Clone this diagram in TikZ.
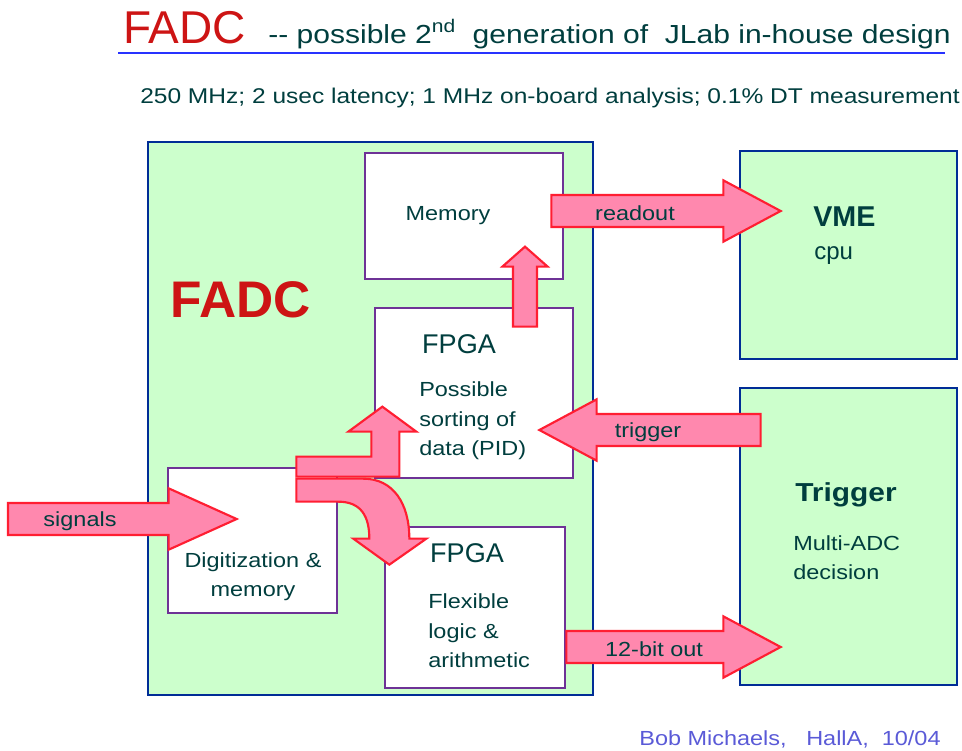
\documentclass[tikz,border=0pt]{standalone}
\usepackage{fontspec}
\setmainfont{Liberation Sans}
\newfontfamily\wide{Liberation Sans}[FakeStretch=1.15]
\usetikzlibrary{calc}
\definecolor{boardgreen}{RGB}{204,255,204}
\definecolor{boardblue}{RGB}{0,45,150}
\definecolor{chippurple}{RGB}{110,50,150}
\definecolor{arrowpink}{RGB}{255,136,174}
\definecolor{arrowred}{RGB}{255,30,50}
\definecolor{fadcred}{RGB}{205,20,20}
\definecolor{textteal}{RGB}{0,62,62}
\definecolor{ruleblue}{RGB}{40,50,255}
\definecolor{signblue}{RGB}{90,90,215}
\begin{document}
\begin{tikzpicture}[x=0.75pt, y=-0.75pt, line join=miter,
  board/.style={draw=boardblue, fill=boardgreen, line width=2pt},
  chip/.style={draw=chippurple, fill=white, line width=2pt},
  boxsize/.style 2 args={minimum width=#1*0.75pt, minimum height=#2*0.75pt, inner sep=0pt},
  pinkarrow/.style={fill=arrowpink, draw=arrowred, line width=1.6pt},
  fatarrow/.style n args={3}{pinkarrow, to path={
    ($(\tikztotarget)!#3!(\tikztostart)$) coordinate (hb)
    ($(\tikztostart)!#1!90:(\tikztotarget)$) -- ($(hb)!#1!90:(\tikztotarget)$)
    -- ($(hb)!#2!90:(\tikztotarget)$) -- (\tikztotarget)
    -- ($(hb)!#2!-90:(\tikztotarget)$) -- ($(hb)!#1!-90:(\tikztotarget)$)
    -- ($(\tikztostart)!#1!-90:(\tikztotarget)$) -- cycle}},
  fat/.style={fatarrow={12pt}{23pt}{43pt}},
  smalltext/.style={font=\wide\fontsize{15.3}{22}\selectfont},
  chiptext/.style={font=\fontsize{20.3}{24}\selectfont}]
\useasboundingbox (0,0) rectangle (962,750);
\node [board, boxsize={445}{553}] (fadc) at (370.5,418.5) {};
\node [chip, boxsize={198}{126}] (mem) at (464,216) {};
\node [chip, boxsize={198}{170}] (sort) at (474,393) {};
\node [chip, boxsize={169}{145}] (dig) at (252.5,540.5) {};
\node [chip, boxsize={180}{161}] (logic) at (475,607.5) {};
\node [board, boxsize={217}{208}] (vme) at (848.5,255) {};
\node [board, boxsize={217}{297}] (trig) at (848.5,536.5) {};
\coordinate (sigin) at (8,519);
\path [fatarrow={12pt}{23pt}{51pt}] (sigin) to ($(dig.west)+(70,-21.5)$);
\path [fat] ($(mem.east)+(-13,-5)$) to ($(mem.east -| vme.west)+(42,-5)$);
\path [fat] ($(trig.west)+(22,-106.5)$) to ($(trig.west -| sort.east)+(-35,-106.5)$);
\path [fat] ($(logic.east)+(0,39.5)$) to ($(logic.east -| trig.west)+(42,39.5)$);
\path [fatarrow={9pt}{17pt}{15pt}] ($(sort.north)+(51,20)$) to ($(sort.north)+(51,-60)$);
\begin{scope}[shift={(dig.north east)}]
\path [pinkarrow] (-42,-10) -- (33,-10) -- (33,-35) -- (10,-35) -- (44,-60) -- (78,-35) -- (61,-35) -- (61,10) -- (-42,10) -- cycle;
\path [pinkarrow] (-42,12) -- (25,12) .. controls (55,12) and (71,37) .. (71,72) -- (88,72) -- (51,98) -- (15,72) -- (31,72) .. controls (31,50) and (23,35) .. (0,35) -- (-42,35) -- cycle;
\end{scope}
\draw [ruleblue, line width=2.2pt] (118,53) -- (945,53);
\begin{scope}[every node/.style={inner sep=0pt, text=textteal}]
\node [font=\fontsize{34.5}{40}\selectfont, text=fadcred, anchor=base west] (title) at (123,43) {FADC};
\node [font=\wide\fontsize{19.6}{24}\selectfont, anchor=base west] (subject) at (268,43) {-{}- possible 2\textsuperscript{nd}\ \ generation of\ \ JLab in-house design};
\node [font=\wide\fontsize{16}{20}\selectfont, anchor=base west] (specs) at (140,103) {250 MHz; 2 usec latency; 1 MHz on-board analysis; 0.1\% DT measurement};
\node [font=\bfseries\fontsize{38.6}{44}\selectfont, text=fadcred] (fadclabel) at (241,300) {FADC};
\node [smalltext, anchor=base] (memlabel) at (448,220) {Memory};
\node [chiptext, anchor=base] (sortchip) at (459,353) {FPGA};
\node [smalltext, anchor=west, align=left] (sortlabel) at (419,421) {Possible\\sorting of\\data (PID)};
\node [smalltext, align=center] (diglabel) at (253,577) {Digitization \&\\memory};
\node [chiptext, anchor=base] (logicchip) at (467,562) {FPGA};
\node [smalltext, anchor=west, align=left] (logiclabel) at (428,631) {Flexible\\logic \&\\arithmetic};
\node [font=\bfseries\fontsize{21.5}{26}\selectfont, anchor=base west] (vmelabel) at (813,226) {VME};
\node [font=\fontsize{18}{22}\selectfont, anchor=base west] (cpulabel) at (814,259) {cpu};
\node [font=\wide\bfseries\fontsize{19.5}{24}\selectfont, anchor=base west] (triglabel) at (795,501) {Trigger};
\node [smalltext, anchor=west, align=left] (decision) at (793,558) {Multi-ADC\\decision};
\node [smalltext] (sigtext) at (80,521) {signals};
\node [smalltext, anchor=base] (readtext) at (635,220) {readout};
\node [smalltext, anchor=base] (trigtext) at (648,437) {trigger};
\node [smalltext, anchor=base] (bittext) at (654,656) {12-bit out};
\node [smalltext, text=signblue, anchor=base] (sign) at (790,745) {Bob Michaels,\ \ \ HallA,\ \ 10/04};
\end{scope}
\end{tikzpicture}
\end{document}
